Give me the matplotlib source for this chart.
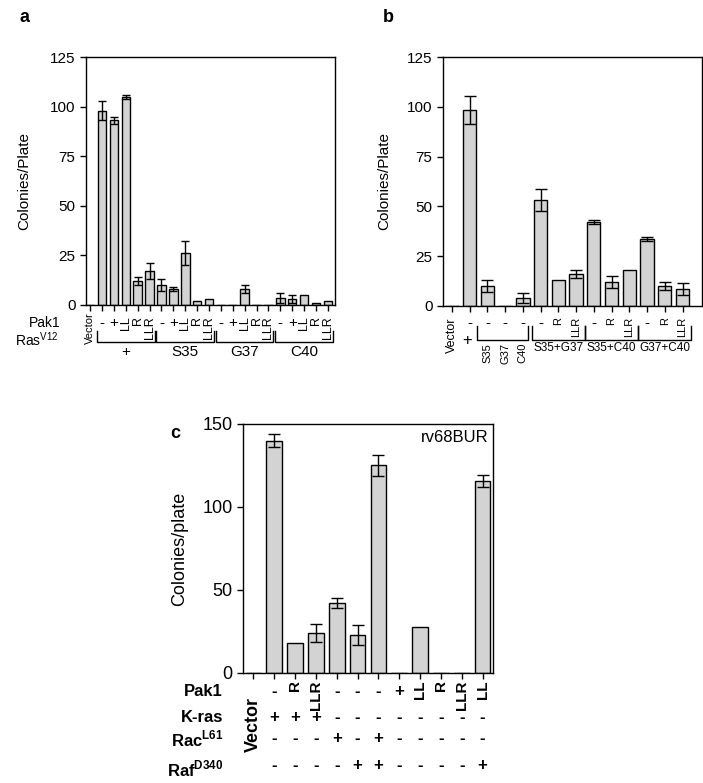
import numpy as np
import matplotlib
matplotlib.use("Agg")
import matplotlib.pyplot as plt

plt.rcParams['font.family'] = ['Liberation Sans', 'DejaVu Sans']

# panel a: Vector + 4 Ras groups x 5 Pak1 variants
a_groups = ['+', 'S35', 'G37', 'C40']
a_pak1 = ['-', '+', 'LL', 'R', 'LLR']
a_values = [0, 98, 93, 105, 12, 17,
            10, 8, 26, 2, 3,
            0, 0, 8, 0, 0,
            3.5, 3, 5, 1, 2]
a_errors = [0, 5, 2, 1, 2, 4,
            3, 1, 6, 0, 0,
            0, 0, 2, 0, 0,
            2.5, 2, 0, 0, 0]

# panel b
b_pak1 = ['', '-', '-', '-', '-', '-', 'R', 'LLR', '-', 'R', 'LLR', '-', 'R', 'LLR']
b_single = ['S35', 'G37', 'C40']
b_groups = ['S35+G37', 'S35+C40', 'G37+C40']
b_values = [0, 98.5, 10, 0, 4, 53, 13, 16, 42, 12, 18, 33.5, 10, 8.5]
b_errors = [0, 7, 3, 0, 2.5, 5.5, 0, 2, 1, 3, 0, 1, 2, 3]

# panel c
c_pak1 = ['', '-', 'R', 'LLR', '-', '-', '-', '+', 'LL', 'R', 'LLR', 'LL']
c_kras = ['', '+', '+', '+', '-', '-', '-', '-', '-', '-', '-', '-']
c_rac = ['', '-', '-', '-', '+', '-', '+', '-', '-', '-', '-', '-']
c_raf = ['', '-', '-', '-', '-', '+', '+', '-', '-', '-', '-', '+']
c_values = [0, 140, 18, 24, 42, 23, 125, 0, 28, 0, 0, 115.5]
c_errors = [0, 4, 0, 5.5, 3, 6, 6.5, 0, 0, 0, 0, 3.5]

bar_color = '#d3d3d3'


def draw_bars(ax, values, errors, width, capsize):
    x = np.arange(len(values))
    v = np.array(values, dtype=float)
    e = np.array(errors, dtype=float)
    ax.bar(x, v, width=width, color=bar_color, edgecolor='black', linewidth=1.0, zorder=2)
    m = e > 0
    ax.errorbar(x[m], v[m], yerr=e[m], fmt='none', ecolor='black',
                elinewidth=1.0, capsize=capsize, capthick=1.0, zorder=3)
    ax.set_xticks(x)
    ax.set_xticklabels([])
    ax.tick_params(direction='out', length=4, width=1.0)
    for s in ax.spines.values():
        s.set_linewidth(1.0)


def bracket(ax, x0, x1, y0, y1):
    ax.plot([x0, x0, x1, x1], [y0, y1, y1, y0], color='black', lw=1.0,
            transform=ax.get_xaxis_transform(), clip_on=False)


fig = plt.figure(figsize=(7.03, 7.83), dpi=100)

# ---- a ----
axa = fig.add_axes([0.1223, 0.6105, 0.3542, 0.3167])
draw_bars(axa, a_values, a_errors, 0.72, 3)
axa.set_xlim(-0.35, 20.6)
axa.set_ylim(0, 125)
axa.set_yticks([0, 25, 50, 75, 100, 125])
axa.tick_params(axis='y', labelsize=11)
axa.set_ylabel('Colonies/Plate', fontsize=11)
axa.yaxis.set_label_coords(-0.221, 0.5)
axa.text(0, -0.028, 'Vector', transform=axa.get_xaxis_transform(), rotation=90,
         ha='center', va='top', fontsize=8)
for g, name in enumerate(a_groups):
    for j, p in enumerate(a_pak1):
        xs = 1 + 5 * g + j
        if p in ('+', '-'):
            axa.text(xs, -0.073, p, transform=axa.get_xaxis_transform(),
                     ha='center', va='center', fontsize=11)
        else:
            axa.text(xs, -0.044, p, transform=axa.get_xaxis_transform(), rotation=90,
                     ha='center', va='top', fontsize=9)
    bracket(axa, 1 + 5 * g - 0.45, 5 + 5 * g + 0.42, -0.105, -0.149)
    axa.text(3 + 5 * g, -0.19, name, transform=axa.get_xaxis_transform(),
             ha='center', va='center', fontsize=11)
axa.text(-0.104, -0.073, 'Pak1', transform=axa.transAxes, ha='right', va='center', fontsize=10)
axa.text(-0.112, -0.141, r'Ras$^{\mathregular{V12}}$', transform=axa.transAxes,
         ha='right', va='center', fontsize=10)

# ---- b ----
axb = fig.add_axes([0.6302, 0.6092, 0.3684, 0.318])
draw_bars(axb, b_values, b_errors, 0.75, 4)
axb.set_xlim(-0.5, 14.1)
axb.set_ylim(0, 125)
axb.set_yticks([0, 25, 50, 75, 100, 125])
axb.tick_params(axis='y', labelsize=11)
axb.set_ylabel('Colonies/Plate', fontsize=11)
axb.yaxis.set_label_coords(-0.20, 0.5)
axb.text(0, -0.048, 'Vector', transform=axb.get_xaxis_transform(), rotation=90,
         ha='center', va='top', fontsize=9)
for i, p in enumerate(b_pak1):
    if p == '-':
        axb.text(i, -0.068, p, transform=axb.get_xaxis_transform(),
                 ha='center', va='center', fontsize=11)
    elif p:
        axb.text(i, -0.044, p, transform=axb.get_xaxis_transform(), rotation=90,
                 ha='center', va='top', fontsize=8)
axb.text(0.85, -0.137, '+', transform=axb.get_xaxis_transform(), ha='center',
         va='center', fontsize=12)
bracket(axb, 1.4, 4.3, -0.08, -0.137)
for k, name in enumerate(b_single):
    axb.text(2 + k, -0.149, name, transform=axb.get_xaxis_transform(), rotation=90,
             ha='center', va='top', fontsize=8)
for k, name in enumerate(b_groups):
    x0 = 5 + 3 * k
    bracket(axb, x0 - 0.5, x0 + 2.5, -0.08, -0.137)
    axb.text(x0 + 1, -0.169, name, transform=axb.get_xaxis_transform(),
             ha='center', va='center', fontsize=8.5)

# ---- c ----
axc = fig.add_axes([0.3457, 0.1405, 0.3556, 0.318])
draw_bars(axc, c_values, c_errors, 0.75, 4)
axc.set_xlim(-0.5, 11.5)
axc.set_ylim(0, 150)
axc.set_yticks([0, 50, 100, 150])
axc.tick_params(axis='y', labelsize=13)
axc.set_ylabel('Colonies/plate', fontsize=13)
axc.yaxis.set_label_coords(-0.22, 0.5)
axc.text(0.98, 0.944, 'rv68BUR', transform=axc.transAxes, ha='right', va='center',
         fontsize=12)
axc.text(0, -0.096, 'Vector', transform=axc.get_xaxis_transform(), rotation=90,
         ha='center', va='top', fontsize=13, fontweight='bold')
rows = [(c_pak1, -0.076), (c_kras, -0.177), (c_rac, -0.265), (c_raf, -0.373)]
for labels, y in rows:
    for i, p in enumerate(labels):
        if p in ('+', '-'):
            axc.text(i, y, p, transform=axc.get_xaxis_transform(), ha='center',
                     va='center', fontsize=12, fontweight='bold')
        elif p:
            axc.text(i, -0.03, p, transform=axc.get_xaxis_transform(), rotation=90,
                     ha='center', va='top', fontsize=11, fontweight='bold')
row_names = ['Pak1', 'K-ras', r'Rac$^{\mathregular{L61}}$', r'Raf$^{\mathregular{D340}}$']
for name, (_, y) in zip(row_names, rows):
    yy = y - 0.015 if name.startswith('Raf') else y
    axc.text(-0.08, yy, name, transform=axc.transAxes, ha='right', va='center',
             fontsize=12, fontweight='bold')

# panel letters
fig.text(25 / 703, 1 - 18 / 783, 'a', fontsize=13, fontweight='bold', ha='center', va='center')
fig.text(388 / 703, 1 - 18 / 783, 'b', fontsize=13, fontweight='bold', ha='center', va='center')
fig.text(175 / 703, 1 - 433 / 783, 'c', fontsize=13, fontweight='bold', ha='center', va='center')

fig.savefig('out.png', dpi=100)
